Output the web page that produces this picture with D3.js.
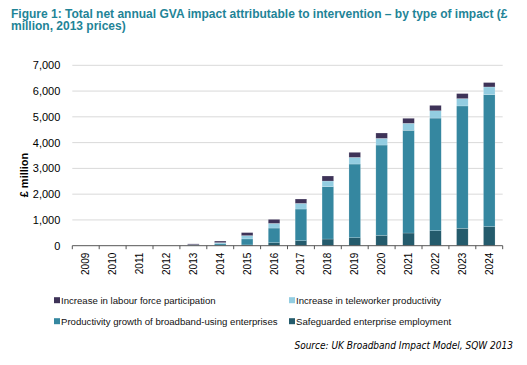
<!DOCTYPE html>
<html><head><meta charset="utf-8">
<script src="https://cdn.jsdelivr.net/npm/d3@7"></script>
<style>body{margin:0;background:#fff}</style>
</head><body>
<svg id="c" width="527" height="365"></svg>
<script>
const years = ["2009","2010","2011","2012","2013","2014","2015","2016","2017","2018","2019","2020","2021","2022","2023","2024"];
const safeguarded = [0,0,0,0,5,10,30,116,194,259,310,401,492,582,673,740];
const productivity = [0,0,0,0,15,60,233,569,1229,2031,2859,3505,3985,4370,4750,5120];
const teleworker = [0,0,0,0,20,50,129,181,220,220,259,259,272,285,285,300];
const labour = [0,0,0,0,30,60,116,155,168,194,194,207,194,207,194,170];
const yTicks = [0,1000,2000,3000,4000,5000,6000,7000];
const seriesNames = ["Safeguarded enterprise employment","Productivity growth of broadband-using enterprises","Increase in teleworker productivity","Increase in labour force participation"];
const seriesKeys = ["safeguarded","productivity","teleworker","labour"];
const colors = {safeguarded:"#245b6c", productivity:"#3587a0", teleworker:"#93cde1", labour:"#3e3358"};

const svg = d3.select("#c");
const x0 = 72.3, x1 = 502.7, yTop = 65.3, yBot = 245.7;
const x = d3.scaleBand().domain(years).range([x0,x1]).paddingInner(0.57).paddingOuter(0.285);
const y = d3.scaleLinear().domain([0,7000]).range([yBot,yTop]);

const rows = years.map((yr,i)=>({year:yr, safeguarded:safeguarded[i], productivity:productivity[i], teleworker:teleworker[i], labour:labour[i]}));
const stack = d3.stack().keys(seriesKeys)(rows);

// title
const title = svg.append("g").attr("font-family","Liberation Sans, Arial, sans-serif").attr("font-weight","bold").attr("font-size","12px").attr("fill","#1f8497");
title.append("text").attr("x",11).attr("y",17.5).text("Figure 1: Total net annual GVA impact attributable to intervention \u2013 by type of impact (\u00a3");
title.append("text").attr("x",11).attr("y",30).text("million, 2013 prices)");

// gridlines
svg.append("g").selectAll("line").data(yTicks.filter(d=>d>0)).join("line")
  .attr("x1",x0).attr("x2",x1).attr("y1",d=>y(d)).attr("y2",d=>y(d))
  .attr("stroke","#d9d9d9").attr("stroke-width",1);

// y axis labels
const yAxis = d3.axisLeft(y).tickValues(yTicks).tickFormat(d3.format(",")).tickSize(0).tickPadding(12);
const ya = svg.append("g").attr("transform",`translate(${x0},0)`).call(yAxis);
ya.select(".domain").remove();
ya.selectAll("text").attr("font-family","Liberation Sans, Arial, sans-serif").attr("font-size","11px").attr("fill","#000");

// bars
svg.append("g").selectAll("g").data(stack).join("g")
  .attr("fill",d=>colors[d.key])
  .selectAll("rect").data(d=>d).join("rect")
  .attr("x",d=>x(d.data.year)).attr("width",x.bandwidth())
  .attr("y",d=>y(d[1])).attr("height",d=>Math.max(0,y(d[0])-y(d[1])))
  .attr("stroke","rgba(255,255,255,0.35)").attr("stroke-width",0.5);

// x axis
const xa = svg.append("g").attr("transform",`translate(0,${yBot})`);
xa.append("line").attr("x1",x0).attr("x2",x1).attr("stroke","#555").attr("stroke-width",1);
const step = x.step();
xa.selectAll("line.t").data(d3.range(years.length+1)).join("line").attr("class","t")
  .attr("x1",i=>x0+i*step).attr("x2",i=>x0+i*step).attr("y1",0).attr("y2",3.5)
  .attr("stroke","#555").attr("stroke-width",1);
xa.selectAll("text").data(years).join("text")
  .attr("transform",d=>`translate(${x(d)+x.bandwidth()/2+3.5},7) rotate(-90)`)
  .attr("text-anchor","end")
  .attr("font-family","Liberation Sans, Arial, sans-serif").attr("font-size","10px").attr("fill","#000")
  .text(d=>d);

// y label
svg.append("text").attr("transform","translate(27.5,175) rotate(-90)").attr("text-anchor","middle")
  .attr("font-family","Liberation Sans, Arial, sans-serif").attr("font-size","11px").attr("font-weight","bold").text("\u00a3 million");

// legend
const legendItems = [
  {key:"labour", name:seriesNames[3], x:54, y:300.7},
  {key:"teleworker", name:seriesNames[2], x:289, y:300.7},
  {key:"productivity", name:seriesNames[1], x:54, y:321.7},
  {key:"safeguarded", name:seriesNames[0], x:289, y:321.7}
];
const lg = svg.append("g").selectAll("g").data(legendItems).join("g").attr("transform",d=>`translate(${d.x},${d.y})`);
lg.append("rect").attr("x",0).attr("y",-3.5).attr("width",6).attr("height",6).attr("fill",d=>colors[d.key]);
lg.append("text").attr("x",7).attr("y",3.5).attr("font-family","Liberation Sans, Arial, sans-serif").attr("font-size","9.6px").attr("fill","#111").text(d=>d.name);

// source
svg.append("text").attr("x",513).attr("y",349).attr("text-anchor","end")
  .attr("font-family","Liberation Sans Narrow, DejaVu Sans Condensed, sans-serif").attr("font-style","italic").attr("font-size","10px").attr("fill","#000")
  .text("Source: UK Broadband Impact Model, SQW 2013");
</script>
</body></html>
